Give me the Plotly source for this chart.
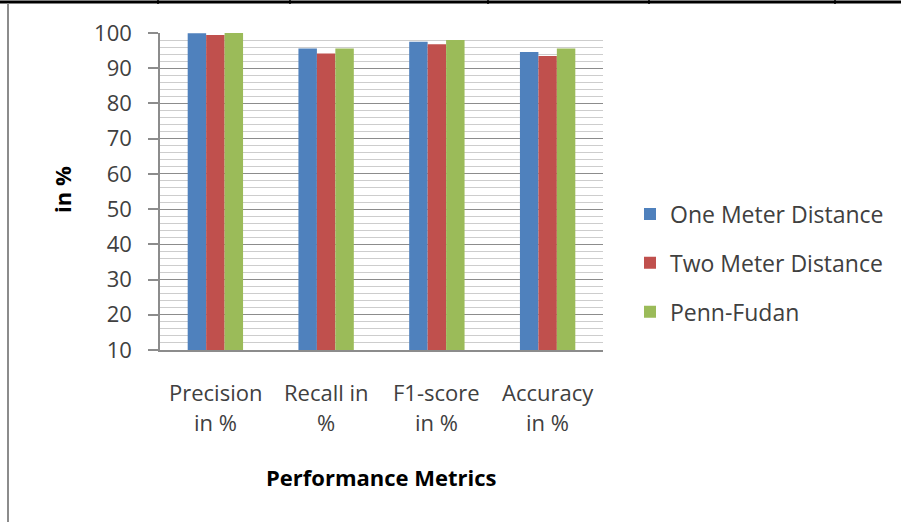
import plotly.graph_objects as go

categories = ["Precision in %", "Recall in %", "F1-score in %", "Accuracy in %"]
cat_line1 = ["Precision", "Recall in", "F1-score", "Accuracy"]
cat_line2 = ["in %", "%", "in %", "in %"]
series_names = ["One Meter Distance", "Two Meter Distance", "Penn-Fudan"]
one_meter = [99.9, 95.6, 97.5, 94.6]
two_meter = [99.4, 94.2, 96.8, 93.5]
penn_fudan = [100.0, 95.6, 98.0, 95.6]
colors = ["#4F81BD", "#C0504D", "#9BBB59"]
y_ticks = [10, 20, 30, 40, 50, 60, 70, 80, 90, 100]

W, H = 901, 522
L, R, T, B = 160, 603, 33, 350  # plot area pixels
pw, ph = R - L, B - T

def px(x):
    return (x - L) / pw

def py(y):
    return (B - y) / ph

FONT = "'Open Sans', Lato, sans-serif"
TXT = "#404040"

fig = go.Figure()
for i, (name, vals) in enumerate(zip(series_names, [one_meter, two_meter, penn_fudan])):
    fig.add_trace(go.Bar(
        x=categories, y=vals, name=name, marker_color=colors[i],
        marker_line_width=0, legendgroup=name,
    ))

annotations = []
for c, l1, l2 in zip(categories, cat_line1, cat_line2):
    annotations.append(dict(x=c, xref="x", y=py(392), yref="paper", text=l1,
                            showarrow=False, xanchor="center", yanchor="middle",
                            font=dict(family=FONT, size=22, color=TXT)))
    annotations.append(dict(x=c, xref="x", y=py(422), yref="paper", text=l2,
                            showarrow=False, xanchor="center", yanchor="middle",
                            font=dict(family=FONT, size=22, color=TXT)))
annotations.append(dict(x=px(62), xref="paper", y=py(190), yref="paper", text="<b>in %</b>",
                        textangle=-90, showarrow=False, xanchor="center", yanchor="middle",
                        font=dict(family=FONT, size=22, color="#000000")))
annotations.append(dict(x=px(381), xref="paper", y=py(477), yref="paper",
                        text="<b>Performance Metrics</b>", showarrow=False,
                        xanchor="center", yanchor="middle",
                        font=dict(family=FONT, size=22, color="#000000")))

shapes = [
    dict(type="line", xref="paper", yref="paper", x0=px(0), x1=px(901), y0=py(2), y1=py(2),
         line=dict(color="#000000", width=3)),
    dict(type="line", xref="paper", yref="paper", x0=px(8), x1=px(8), y0=py(3), y1=py(522),
         line=dict(color="#8c8c8c", width=2)),
]
for vx in [158, 290, 488, 649, 835]:
    shapes.append(dict(type="line", xref="paper", yref="paper", x0=px(vx), x1=px(vx),
                       y0=py(0), y1=py(4), line=dict(color="#000000", width=1.5)))

fig.update_layout(
    width=W, height=H,
    margin=dict(l=L, r=W - R, t=T, b=H - B, pad=0, autoexpand=False),
    paper_bgcolor="white", plot_bgcolor="white",
    barmode="group", bargap=0.5, bargroupgap=0,
    font=dict(family=FONT, size=22, color=TXT),
    xaxis=dict(showticklabels=False, ticks="", showgrid=False, showline=True,
               linecolor="#8c8c8c", linewidth=1.5),
    yaxis=dict(range=[10, 100], tickvals=y_ticks, ticks="outside", ticklen=10,
               tickcolor="#8c8c8c", tickwidth=1.5, showline=True, linecolor="#8c8c8c",
               linewidth=1.5, showgrid=True, gridcolor="#8c8c8c", gridwidth=1,
               ticklabelstandoff=12, zeroline=False,
               tickfont=dict(family=FONT, size=22, color=TXT),
               minor=dict(dtick=2, showgrid=True, gridcolor="#cdcdcd", gridwidth=1, ticks="")),
    legend=dict(x=px(630), xanchor="left", y=py(263), yanchor="middle",
                font=dict(family=FONT, size=23, color=TXT),
                tracegroupgap=16, bgcolor="rgba(0,0,0,0)"),
    annotations=annotations, shapes=shapes,
)

fig.write_html("out.html")
